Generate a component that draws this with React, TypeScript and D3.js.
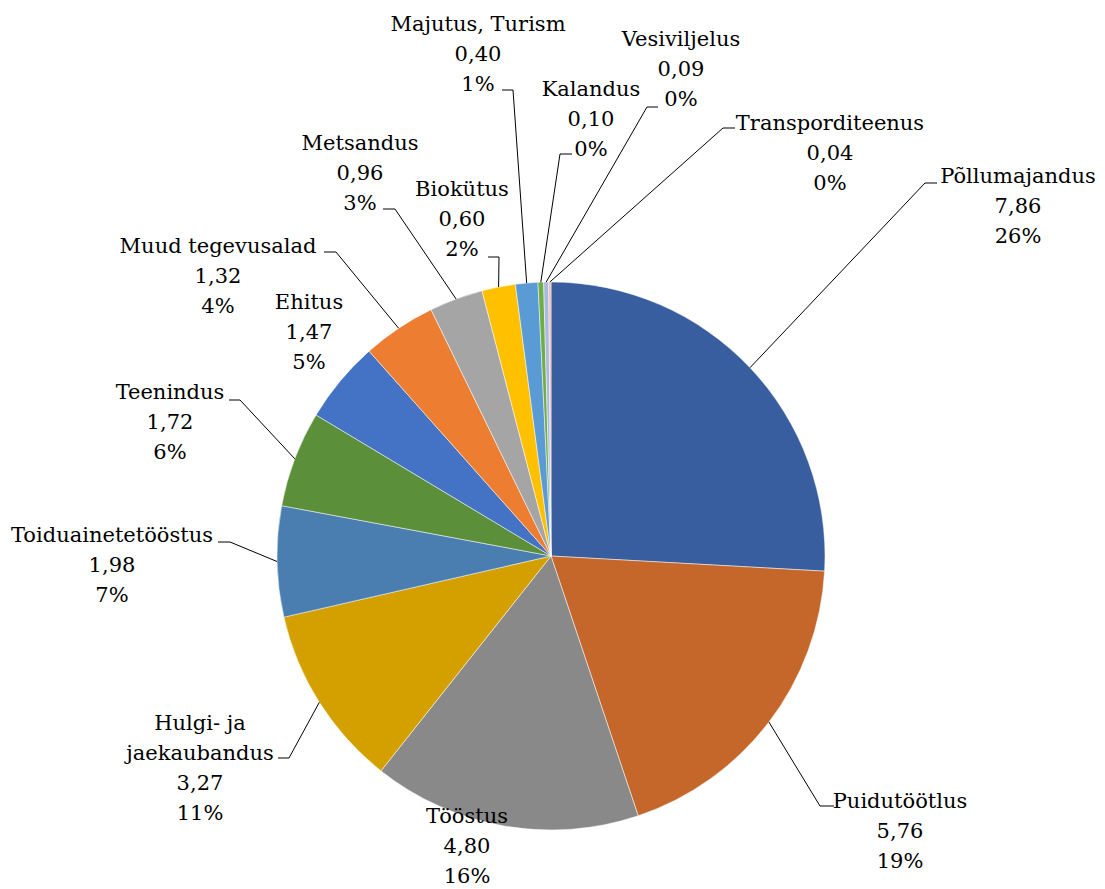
import React from 'react';
import * as d3 from 'd3';

// Data, clockwise from 12 o'clock
const categories = [
  'Põllumajandus',
  'Puidutöötlus',
  'Tööstus',
  'Hulgi- ja|jaekaubandus',
  'Toiduainetetööstus',
  'Teenindus',
  'Ehitus',
  'Muud tegevusalad',
  'Metsandus',
  'Biokütus',
  'Majutus, Turism',
  'Kalandus',
  'Vesiviljelus',
  'Transporditeenus',
];
const values = [7.86, 5.76, 4.8, 3.27, 1.98, 1.72, 1.47, 1.32, 0.96, 0.6, 0.4, 0.1, 0.09, 0.04];
const colors = [
  '#385e9f', '#c5672b', '#898989', '#d4a000', '#4a7eb0', '#5b8f3a', '#4472c4',
  '#ed7d31', '#a5a5a5', '#ffc000', '#5b9bd5', '#70ad47', '#a9b9e0', '#f4b8a8',
];

// label placement: text centre x, first line centre y, leader elbow + tail x
type Lay = { x: number; y: number; elbow?: [number, number]; tail?: number };
const labelLayout: Lay[] = [
  { x: 1018, y: 175, elbow: [925, 183], tail: 937 },
  { x: 900, y: 800, elbow: [820, 806], tail: 834 },
  { x: 467, y: 815 },
  { x: 200, y: 722, elbow: [289, 758], tail: 278 },
  { x: 112, y: 534, elbow: [230, 542], tail: 218 },
  { x: 170, y: 391, elbow: [240, 400], tail: 229 },
  { x: 309, y: 301 },
  { x: 218, y: 245, elbow: [336, 252], tail: 324 },
  { x: 360, y: 142, elbow: [395, 209], tail: 383 },
  { x: 462, y: 188, elbow: [499, 257], tail: 488 },
  { x: 478, y: 23, elbow: [513, 90], tail: 502 },
  { x: 591, y: 88, elbow: [560, 154], tail: 572 },
  { x: 681, y: 38, elbow: [647, 107], tail: 658 },
  { x: 830, y: 122, elbow: [723, 128], tail: 735 },
];

const width = 1105;
const height = 889;
const cx = 551;
const cy = 556;
const radius = 274;
const lineH = 30;
const serif = 'DejaVu Serif';

const locale = d3.formatLocale({ decimal: ',', thousands: ' ', grouping: [3], currency: ['', ''] });
const fmtVal = locale.format('.2f');
const fmtPct = d3.format('.0%');

export default function App() {
  const total = d3.sum(values);
  const pie = d3.pie<number>().sort(null).value(d => d);
  const arcs = pie(values);
  const arc = d3.arc<d3.PieArcDatum<number>>().innerRadius(0).outerRadius(radius);
  const edge = d3.arc<d3.PieArcDatum<number>>().innerRadius(radius).outerRadius(radius);

  return (
    <div style={{ position: 'absolute', left: 0, top: 0 }}>
      <svg width={width} height={height} style={{ display: 'block', background: '#fff' }}>
        <g transform={`translate(${cx},${cy})`}>
          {arcs.map((a, i) => (
            <path key={i} d={arc(a) || ''} fill={colors[i]} stroke="#fff" strokeWidth={0.5} />
          ))}
        </g>
        {arcs.map((a, i) => {
          const lay = labelLayout[i];
          if (!lay.elbow) return null;
          const [px, py] = edge.centroid(a);
          const pts: [number, number][] = [
            [cx + px, cy + py],
            lay.elbow,
            [lay.tail!, lay.elbow[1]],
          ];
          return (
            <path key={'l' + i} d={d3.line()(pts) || ''} fill="none" stroke="#000" strokeWidth={1} />
          );
        })}
        {arcs.map((a, i) => {
          const lay = labelLayout[i];
          const lines = [
            ...categories[i].split('|'),
            fmtVal(values[i]),
            fmtPct(values[i] / total),
          ];
          return (
            <text key={'t' + i} x={lay.x} textAnchor="middle" fill="#000"
              fontFamily={serif} fontSize={21}>
              {lines.map((s, j) => (
                <tspan key={j} x={lay.x} y={lay.y + 8 + j * lineH}>{s}</tspan>
              ))}
            </text>
          );
        })}
      </svg>
    </div>
  );
}
